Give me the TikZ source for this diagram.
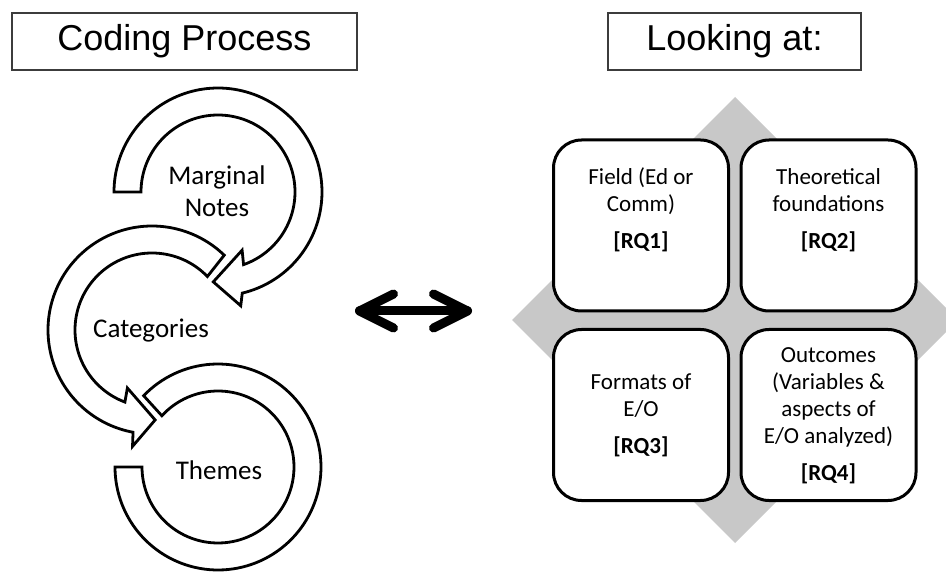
\documentclass[tikz,border=0pt]{standalone}
\usepackage{fontspec}
\setmainfont{Carlito}
\newfontfamily\titlefont{Liberation Sans}
\usetikzlibrary{calc}
\definecolor{diamondgray}{RGB}{200,200,200}
\definecolor{boxline}{RGB}{60,60,60}
\tikzset{
  titlebox/.style={draw=boxline, line width=1.5pt, fill=white, inner sep=0pt, outer sep=0pt,
    font=\titlefont\fontsize{36}{40}\selectfont},
  ring/.style={draw=black, line width=2.8pt, fill=white, line join=miter},
  lbl/.style={align=center, inner sep=0pt, font=\fontsize{27}{32}\selectfont},
  qbox/.style={draw=black, line width=3pt, fill=white, rounded corners=28pt,
    minimum width=175pt, minimum height=171pt, inner sep=0pt, outer sep=0pt},
  btxt/.style={align=center, inner sep=0pt, font=\fontsize{23}{27}\selectfont},
  dbl/.style={draw=black, line width=9pt, line cap=round, line join=round}
}
\begin{document}
\begin{tikzpicture}[x=1pt,y=-1pt]
\useasboundingbox (0,0) rectangle (946,572);

% title boxes
\node[titlebox, minimum width=345pt, minimum height=57pt] (cp) at (184.5,41.5) {Coding Process};
\node[titlebox, minimum width=253pt, minimum height=57pt] (la) at (734.5,41.5) {Looking at:};

% circular arrows
% Themes (no head)
\draw[ring] plot[domain=223.8:540, samples=120] ({218+103*cos(\x)},{467+103*sin(\x)})
  -- plot[domain=540:222.4, samples=120] ({218+76*cos(\x)},{467+76*sin(\x)}) -- cycle;
% Categories
\draw[ring] plot[domain=314:100.5, samples=120] ({152+104*cos(\x)},{330+104*sin(\x)})
  -- ({152+118*cos(99.5)},{330+118*sin(99.5)})
  -- ({152+90*cos(88)},{330+90*sin(88)})
  -- ({152+63*cos(113)},{330+63*sin(113)})
  -- plot[domain=110.6:316, samples=120] ({152+77*cos(\x)},{330+77*sin(\x)}) -- cycle;
% Marginal notes
\draw[ring] plot[domain=180:436.5, samples=120] ({218+104*cos(\x)},{192+104*sin(\x)})
  -- ({218+116*cos(438.7)},{192+116*sin(438.7)})
  -- ({218+90*cos(453)},{192+90*sin(453)})
  -- ({218+63*cos(427.5)},{192+63*sin(427.5)})
  -- plot[domain=430.6:180, samples=120] ({218+77*cos(\x)},{192+77*sin(\x)}) -- cycle;

\node[lbl] (mn) at (217,191) {Marginal\\Notes};
\node[lbl] (cat) at (151,331) {Categories};
\node[lbl] (thm) at (219,470) {Themes};

% double arrow
\coordinate (al) at (359.5,311);
\coordinate (ar) at (467.5,311);
\draw[dbl] (al) -- (ar);
\draw[dbl] ($(al)+(34,-17)$) -- (al) -- ($(al)+(34,17)$);
\draw[dbl] ($(ar)+(-34,-17)$) -- (ar) -- ($(ar)+(-34,17)$);

% diamond
\fill[diamondgray] (735,97) -- (958,320) -- (735,543) -- (512,320) -- cycle;

% quadrant boxes
\node[qbox] (q1) at (641,225.5) {};
\node[qbox] (q2) at (828.5,225.5) {};
\node[qbox] (q3) at (641,415) {};
\node[qbox] (q4) at (828.5,415) {};

\node[btxt] (t1) at (641,210) {Field (Ed or\\Comm)\\[10pt]\textbf{[RQ1]}};
\node[btxt] (t2) at (828.5,210) {Theoretical\\foundations\\[10pt]\textbf{[RQ2]}};
\node[btxt] (t3) at (641,415) {Formats of\\E/O\\[10pt]\textbf{[RQ3]}};
\node[btxt] (t4) at (828.5,416) {Outcomes\\(Variables \&\\aspects of\\E/O analyzed)\\[10pt]\textbf{[RQ4]}};
\end{tikzpicture}
\end{document}
